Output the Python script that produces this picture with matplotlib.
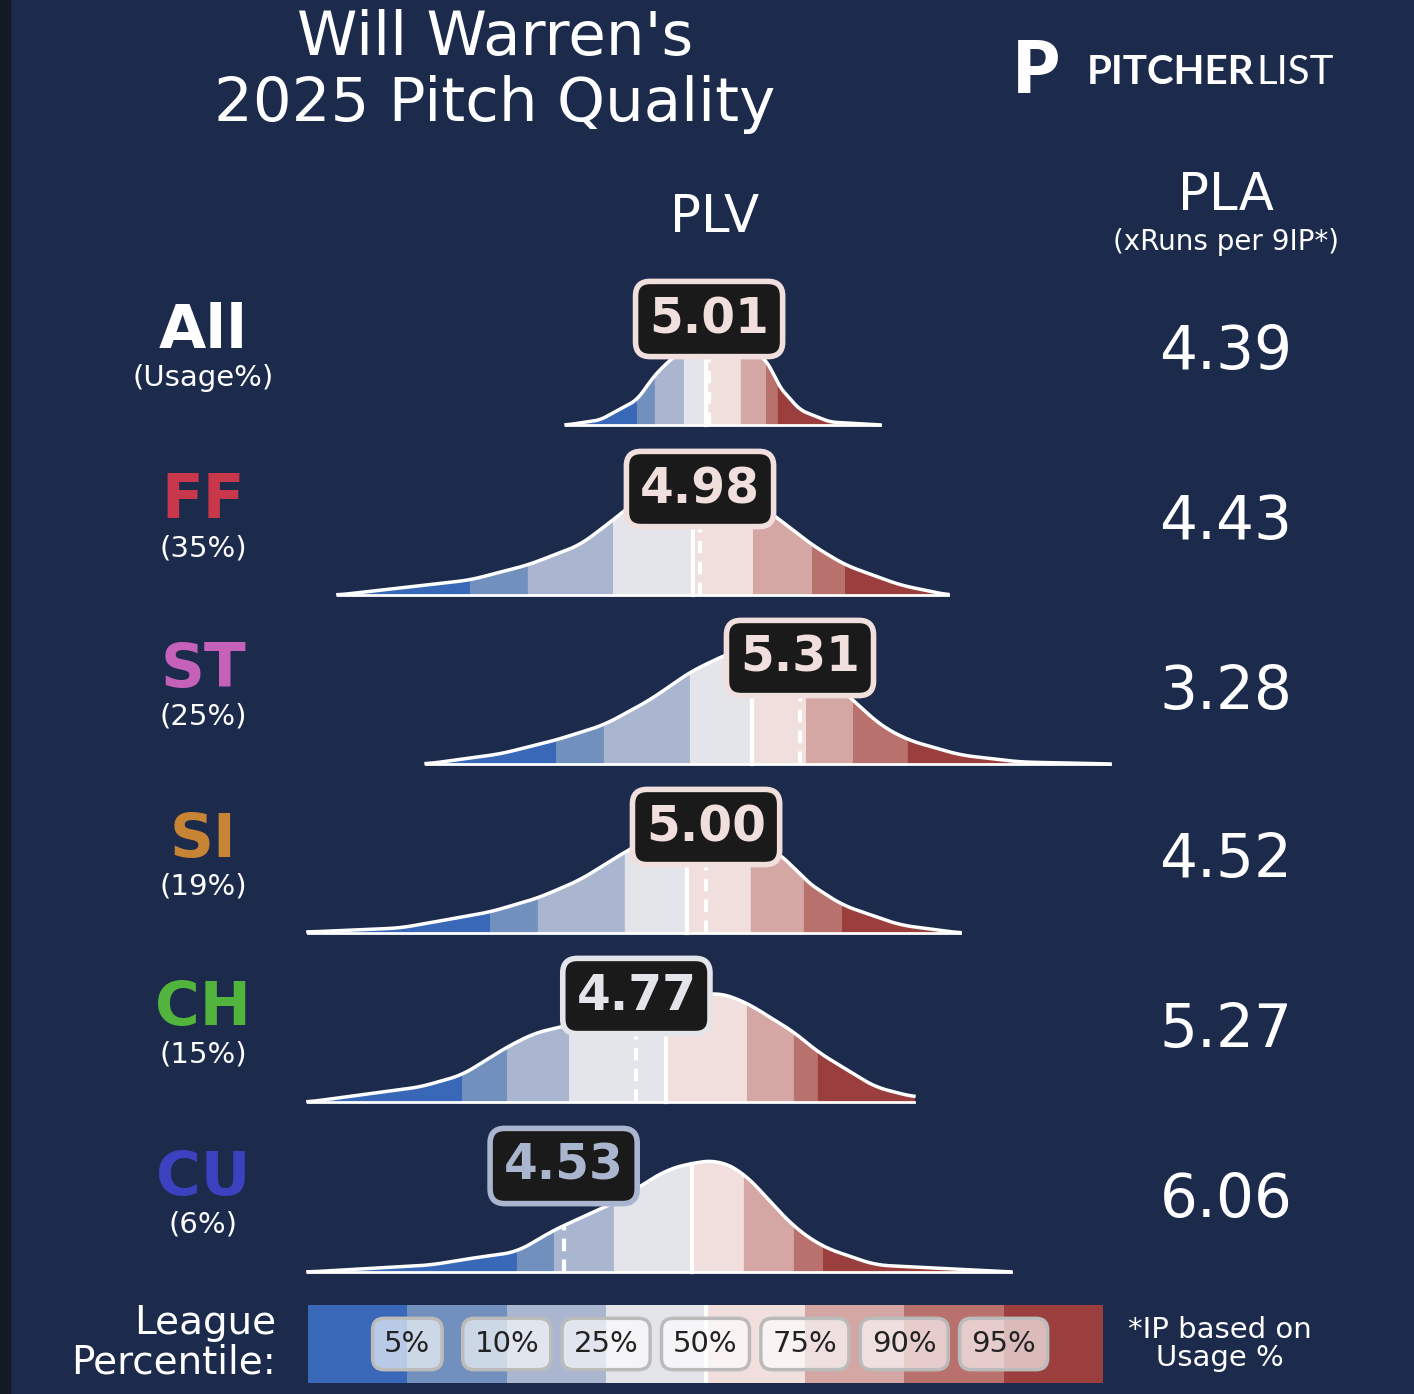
import numpy as np
import matplotlib.pyplot as plt
from matplotlib.patches import Rectangle

# === Data ===
pitches = ["All", "FF", "ST", "SI", "CH", "CU"]
usage = ["(Usage%)", "(35%)", "(25%)", "(19%)", "(15%)", "(6%)"]
pitch_colors = ["white", "#c8384a", "#c561b8", "#c68434", "#52b43c", "#3c41c0"]
plv = [5.01, 4.98, 5.31, 5.00, 4.77, 4.53]
pla = ["4.39", "4.43", "3.28", "4.52", "5.27", "6.06"]

# density knots (PLV, relative density)
curve_x = [
    [4.538, 4.650, 4.772, 4.831, 4.881, 4.980, 5.112, 5.211, 5.237, 5.310, 5.409, 5.574],
    [3.785, 3.990, 4.221, 4.412, 4.584, 4.693, 4.815, 4.980, 5.112, 5.244, 5.350, 5.459, 5.640, 5.798],
    [4.076, 4.320, 4.505, 4.663, 4.815, 4.947, 5.063, 5.178, 5.310, 5.485, 5.574, 5.666, 5.838, 6.036, 6.333],
    [3.686, 3.990, 4.287, 4.445, 4.584, 4.732, 4.848, 4.980, 5.145, 5.277, 5.323, 5.449, 5.640, 5.838],
    [3.686, 4.056, 4.195, 4.343, 4.435, 4.548, 4.716, 4.914, 5.049, 5.135, 5.290, 5.369, 5.558, 5.686],
    [3.686, 4.092, 4.231, 4.376, 4.498, 4.696, 4.868, 4.954, 5.039, 5.125, 5.290, 5.386, 5.558, 6.006],
]
curve_y = [
    [0, 5, 25, 50, 65, 88, 88, 60, 40, 15, 3, 0],
    [0, 7, 15, 30, 50, 75, 105, 118, 105, 75, 50, 30, 10, 0],
    [0, 10, 24, 39, 64, 92, 109, 122, 110, 64, 39, 24, 9, 2, 0],
    [1, 5, 21, 35, 53, 81, 100, 108, 98, 71, 53, 28, 8, 0],
    [0, 15, 27, 55, 69, 77, 90, 105, 109, 99, 70, 50, 15, 5],
    [0, 7, 14, 20, 42, 69, 102, 109, 112, 99, 45, 25, 7, 0],
]
# league percentile cut points 5,10,25,50,75,90,95 per pitch
cuts = [
    [4.772, 4.831, 4.927, 5.000, 5.115, 5.198, 5.237],
    [4.221, 4.412, 4.693, 4.957, 5.155, 5.350, 5.459],
    [4.505, 4.663, 4.947, 5.152, 5.330, 5.485, 5.666],
    [4.287, 4.445, 4.732, 4.937, 5.148, 5.323, 5.449],
    [4.195, 4.343, 4.548, 4.868, 5.135, 5.290, 5.369],
    [4.376, 4.498, 4.696, 4.954, 5.125, 5.290, 5.386],
]
pct_labels = ["5%", "10%", "25%", "50%", "75%", "90%", "95%"]
band_colors = ["#3a68b9", "#7290bd", "#aab6d0", "#e4e5ea",
               "#f0dfdd", "#d4a6a4", "#b8716d", "#9a3f3d"]

BG = "#1c2a4c"
W, H = 1414, 1394
baselines = [425, 595, 764, 933, 1102, 1272]

fig = plt.figure(figsize=(W / 100, H / 100), dpi=100, facecolor=BG)
ax = fig.add_axes([0, 0, 1, 1])
ax.set_facecolor(BG)
# x in PLV units, y in pixel rows
ax.set_xlim(4.98 - 700 / 303, 4.98 + (W - 700) / 303)
ax.set_ylim(H, 0)
ax.axis("off")
ax.add_patch(Rectangle((ax.get_xlim()[0], 0), 10 / 303, H, color="#141926", zorder=0))


def fx(px):
    return px / W


def fy(py):
    return 1 - py / H


def band_color(v, c):
    return band_colors[int(np.searchsorted(c, v))]


for i in range(len(pitches)):
    base = baselines[i]
    xs = np.linspace(curve_x[i][0], curve_x[i][-1], 600)
    ys = np.interp(xs, curve_x[i], curve_y[i])
    k = np.ones(25) / 25
    ys = np.convolve(np.pad(ys, 12, mode="edge"), k, "valid")
    edges = [xs[0]] + cuts[i] + [xs[-1]]
    for b in range(8):
        seg = np.concatenate([[edges[b]], xs[(xs > edges[b]) & (xs < edges[b + 1])], [edges[b + 1]]])
        ax.fill_between(seg, base, base - np.interp(seg, xs, ys), color=band_colors[b],
                        ec=band_colors[b], lw=0.8, zorder=2)
    ax.plot(xs, base - ys, color="white", lw=2.5, zorder=3)
    ax.plot([xs[0], xs[-1]], [base, base], color="white", lw=2, zorder=3)
    # league median (solid) and pitcher value (dashed)
    med = cuts[i][3]
    ax.plot([med, med], [base, base - np.interp(med, xs, ys)], color="white", lw=3, zorder=4)
    ax.plot([plv[i], plv[i]], [base, base - np.interp(plv[i], xs, ys)], color="white",
            lw=3, ls=(0, (3, 2)), zorder=4)
    ec = band_color(plv[i], cuts[i])
    ax.text(plv[i], base - 106, f"{plv[i]:.2f}", ha="center", va="center", fontsize=35,
            fontweight="bold", color=ec, zorder=6,
            bbox=dict(boxstyle="round,pad=0.28,rounding_size=0.3", fc="#1a1a1a", ec=ec, lw=4))
    # left labels
    ax.text(4.98 + (203 - 700) / 303, base - 93, pitches[i], ha="center", va="center",
            fontsize=44, fontweight="bold", color=pitch_colors[i])
    ax.text(4.98 + (203 - 700) / 303, base - 47, usage[i], ha="center", va="center",
            fontsize=21, color="white")
    ax.text(4.98 + (1226 - 700) / 303, base - 72, pla[i], ha="center", va="center",
            fontsize=43, color="white")

# titles
fig.text(fx(495), fy(38), "Will Warren's", ha="center", va="center", fontsize=44, color="white")
fig.text(fx(495), fy(105), "2025 Pitch Quality", ha="center", va="center", fontsize=44, color="white")
fig.text(fx(715), fy(218), "PLV", ha="center", va="center", fontsize=37, color="white")
fig.text(fx(1226), fy(196), "PLA", ha="center", va="center", fontsize=37, color="white")
fig.text(fx(1226), fy(242), "(xRuns per 9IP*)", ha="center", va="center", fontsize=20, color="white")

# logo
fig.text(fx(1036), fy(72), "P", ha="center", va="center", fontsize=52, fontweight="heavy",
         color="white", family="Lato")
fig.text(fx(1087), fy(73), "PITCHER", ha="left", va="center", fontsize=29, fontweight="bold",
         color="white", family="Lato")
fig.text(fx(1256), fy(73), "LIST", ha="left", va="center", fontsize=29,
         color="white", family="Lato")

# legend bar
lax = fig.add_axes([fx(308), fy(1383), fx(1103) - fx(308), (1383 - 1305) / H])
lax.set_xlim(0, 8)
lax.set_ylim(0, 1)
lax.axis("off")
lax.bar(np.arange(8) + 0.5, 1, width=1, color=band_colors)
lax.plot([4, 4], [0, 1], color="white", lw=3)
for j, lab in enumerate(pct_labels):
    lax.text(j + 1, 0.5, lab, ha="center", va="center", fontsize=21, color="#222222",
             bbox=dict(boxstyle="round,pad=0.4", fc=(1, 1, 1, 0.65), ec="#bbbbbb", lw=2.5))

fig.text(fx(276), fy(1343), "League\nPercentile:", ha="right", va="center", fontsize=28,
         color="white", linespacing=1.05)
fig.text(fx(1220), fy(1344), "*IP based on\nUsage %", ha="center", va="center", fontsize=21,
         color="white", linespacing=1.0)

fig.savefig("out.png", dpi=100, facecolor=BG)
